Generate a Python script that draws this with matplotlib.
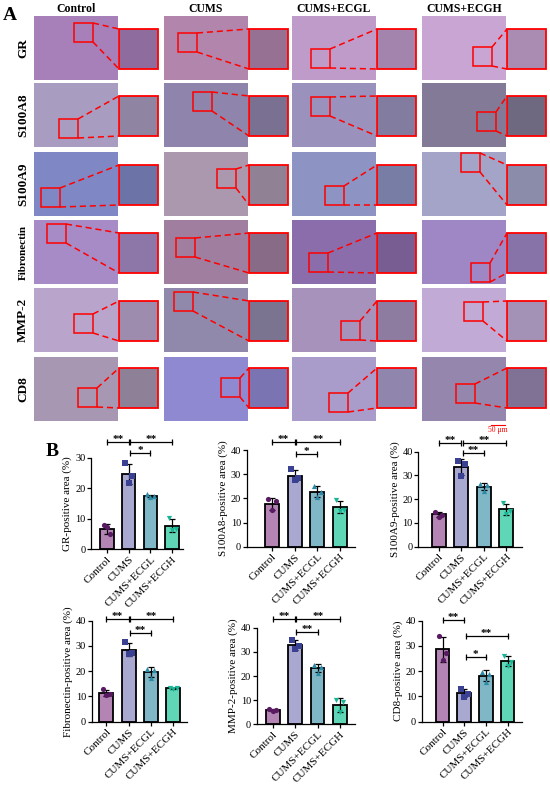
import matplotlib
matplotlib.use("Agg")
import numpy as np
import matplotlib.pyplot as plt
from matplotlib.patches import Rectangle

plt.rcParams['font.family'] = ['Liberation Serif', 'DejaVu Serif']

# ---------------- data ----------------
groups = ['Control', 'CUMS', 'CUMS+ECGL', 'CUMS+ECGH']
stains = ['GR', 'S100A8', 'S100A9', 'Fibronectin', 'MMP-2', 'CD8']

# individual points (3 per group)
gr_pts = [[8.0, 4.9, 7.2], [28.3, 24.0, 21.6], [18.0, 17.3, 17.2], [10.3, 6.8, 6.2]]
s100a8_pts = [[19.8, 18.7, 15.0], [32.0, 28.6, 27.6], [25.0, 22.6, 20.4], [19.3, 15.2, 14.6]]
s100a9_pts = [[14.8, 13.4, 12.7], [36.0, 34.8, 29.8], [26.4, 25.8, 23.6], [18.4, 15.2, 13.6]]
fibro_pts = [[12.9, 10.9, 10.7], [31.6, 27.2, 26.8], [21.0, 20.3, 17.4], [13.5, 13.2, 12.8]]
mmp2_pts = [[6.3, 5.9, 5.6], [34.8, 32.6, 31.0], [24.6, 23.8, 21.3], [9.9, 9.2, 4.9]]
cd8_pts = [[34.0, 27.2, 24.6], [13.0, 10.8, 9.9], [19.8, 19.0, 15.9], [26.2, 23.8, 22.0]]

ylabels = ['GR-positive area (%)', 'S100A8-positive area (%)', 'S100A9-positive area (%)',
           'Fibronectin-positive area (%)', 'MMP-2-positive area (%)', 'CD8-positive area (%)']
ymaxes = [30, 40, 40, 40, 40, 40]

# significance brackets: (group i, group j, height, label)
sig_gr = [(0, 1, 35.3, '**'), (1, 3, 35.3, '**'), (1, 2, 31.5, '*')]
sig_s100a8 = [(0, 1, 43.2, '**'), (1, 3, 43.2, '**'), (1, 2, 38.2, '*')]
sig_s100a9 = [(0, 1, 43.8, '**'), (1, 3, 43.8, '**'), (1, 2, 39.3, '**')]
sig_fibro = [(0, 1, 40.5, '**'), (1, 3, 40.5, '**'), (1, 2, 35.2, '**')]
sig_mmp2 = [(0, 1, 43.6, '**'), (1, 3, 43.6, '**'), (1, 2, 38.3, '**')]
sig_cd8 = [(0, 1, 40.3, '**'), (1, 3, 33.9, '**'), (1, 2, 25.7, '*')]

all_pts = [gr_pts, s100a8_pts, s100a9_pts, fibro_pts, mmp2_pts, cd8_pts]
all_sig = [sig_gr, sig_s100a8, sig_s100a9, sig_fibro, sig_mmp2, sig_cd8]

bar_colors = ['#b384b4', '#a9a8d1', '#80b7c7', '#5fd6b6']
pt_colors = ['#5a1a62', '#3b4192', '#2b8ba6', '#19b596']
pt_markers = ['o', 's', '^', 'v']

# average tile colours of the micrographs (rows = stains, cols = groups)
tile_colors = [
    ['#a77fb9', '#b285ad', '#bf9bca', '#c8a5d3'],
    ['#a89cc0', '#8f84ab', '#9a92bd', '#837a98'],
    ['#7f88c4', '#ab98ae', '#8d93c3', '#a3a4c8'],
    ['#a68bc6', '#9f7e9f', '#8c6dab', '#9f87c6'],
    ['#b9a5cb', '#9189ab', '#a692bb', '#c1abd6'],
    ['#a797b2', '#8f89d2', '#a99cca', '#9586ae'],
]
# zoom box offsets inside each main image (px)
box_off = [
    [(40, 7), (14, 17), (19, 33), (51, 31)],
    [(25, 36), (29, 9), (19, 14), (55, 29)],
    [(7, 36), (53, 17), (33, 34), (39, 1)],
    [(13, 4), (12, 18), (17, 33), (49, 43)],
    [(40, 26), (10, 4), (49, 33), (42, 14)],
    [(44, 31), (57, 21), (37, 36), (34, 27)],
]

W, H = 550, 792
fig = plt.figure(figsize=(W / 100, H / 100), dpi=100)

# ---------------- panel A (pixel coordinates) ----------------
ov = fig.add_axes([0, 0, 1, 1])
ov.set_xlim(0, W)
ov.set_ylim(H, 0)
ov.axis('off')

col_x = [34, 164, 292, 422]
row_y = [16, 83, 152, 220, 288, 357]
mw, mh = 84, 64
iw, ih = 39, 40


def darker(c, f=0.85):
    r, g, b = matplotlib.colors.to_rgb(c)
    return (r * f, g * f, b * f)


for r in range(6):
    for c in range(4):
        x0, y0 = col_x[c], row_y[r]
        ov.add_patch(Rectangle((x0, y0), mw, mh, facecolor=tile_colors[r][c], edgecolor='none'))
        ix, iy = x0 + mw + 1, y0 + (11 if r == 5 else 13)
        ov.add_patch(Rectangle((ix, iy), iw, ih, facecolor=darker(tile_colors[r][c]),
                               edgecolor='red', lw=1.3, zorder=3))
        bx, by = x0 + box_off[r][c][0], y0 + box_off[r][c][1]
        ov.add_patch(Rectangle((bx, by), 19, 19, facecolor='none', edgecolor='red', lw=1.1, zorder=3))
        ov.plot([bx + 19, ix], [by, iy], color='red', lw=1.1, ls=(0, (4, 2.5)), zorder=3)
        ov.plot([bx + 19, ix], [by + 19, iy + ih], color='red', lw=1.1, ls=(0, (4, 2.5)), zorder=3)

for c, g in enumerate(groups):
    ov.text(col_x[c] + mw / 2, 9, g, ha='center', va='center', fontsize=8.5, fontweight='bold')
for r, s in enumerate(stains):
    ov.text(23, row_y[r] + mh / 2, s, ha='center', va='center', rotation=90,
            fontsize=8 if s == 'Fibronectin' else 9.5, fontweight='bold')

ov.text(10, 16, 'A', ha='center', va='center', fontsize=14, fontweight='bold')
ov.text(52, 451, 'B', ha='center', va='center', fontsize=14, fontweight='bold')
ov.plot([491, 505], [424.5, 424.5], color='red', lw=0.8)
ov.text(498, 430, '50 μm', ha='center', va='center', fontsize=5.5, color='red')

# ---------------- panel B ----------------
# (left px, right px, zero px, top px, first bar px, bar spacing px)
chart_px = [
    (91.0, 183.0, 549.3, 457.7, 107.0, 21.7),
    (246.7, 355.0, 546.7, 450.0, 272.0, 22.7),
    (418.3, 521.7, 546.7, 451.7, 438.8, 22.5),
    (91.7, 186.7, 721.7, 620.7, 106.3, 22.3),
    (256.7, 355.0, 724.3, 627.7, 272.7, 22.4),
    (421.7, 521.7, 721.7, 620.7, 442.5, 21.7),
]

x = np.arange(len(groups))
for k in range(6):
    left, right, y0, ytop, xc, sp = chart_px[k]
    ax = fig.add_axes([left / W, 1 - y0 / H, (right - left) / W, (y0 - ytop) / H])
    ax.patch.set_alpha(0)
    pts = np.array(all_pts[k])
    means = pts.mean(axis=1)
    sds = pts.std(axis=1, ddof=1)
    ax.bar(x, means, width=0.62, color=bar_colors, edgecolor='black', linewidth=1.3, zorder=2)
    ax.errorbar(x, means, yerr=sds, fmt='none', ecolor='black', elinewidth=0.9,
                capsize=2.2, capthick=0.9, zorder=3)
    for i in range(len(groups)):
        offs = np.array([-0.16, 0.16, 0.0])
        ax.scatter(x[i] + offs, pts[i], s=14, marker=pt_markers[i], color=pt_colors[i],
                   zorder=4, linewidths=0)
    ax.set_xlim(-(xc - left) / sp, (right - xc) / sp)
    ax.set_ylim(0, ymaxes[k])
    ax.set_yticks(np.arange(0, ymaxes[k] + 1, 10))
    ax.set_xticks(x)
    ax.set_xticklabels(groups, rotation=45, ha='right', rotation_mode='anchor', fontsize=8)
    ax.tick_params(axis='y', labelsize=7.5, length=3, width=0.9, pad=1)
    ax.tick_params(axis='x', length=3, width=0.9, pad=1)
    ax.set_ylabel(ylabels[k], fontsize=8, labelpad=2)
    for s in ['top', 'right']:
        ax.spines[s].set_visible(False)
    for s in ['left', 'bottom']:
        ax.spines[s].set_linewidth(0.9)
    for (i, j, yy, lab) in all_sig[k]:
        xa = i + (0.06 if i == 1 else 0.0)
        xb = j
        ax.plot([xa, xb], [yy, yy], color='black', lw=0.9, marker='|', markersize=5,
                markeredgewidth=0.9, clip_on=False, zorder=5)
        ax.text((xa + xb) / 2, yy, lab, ha='center', va='baseline', fontsize=8,
                fontweight='bold', clip_on=False)

fig.savefig('out.png', dpi=100)
